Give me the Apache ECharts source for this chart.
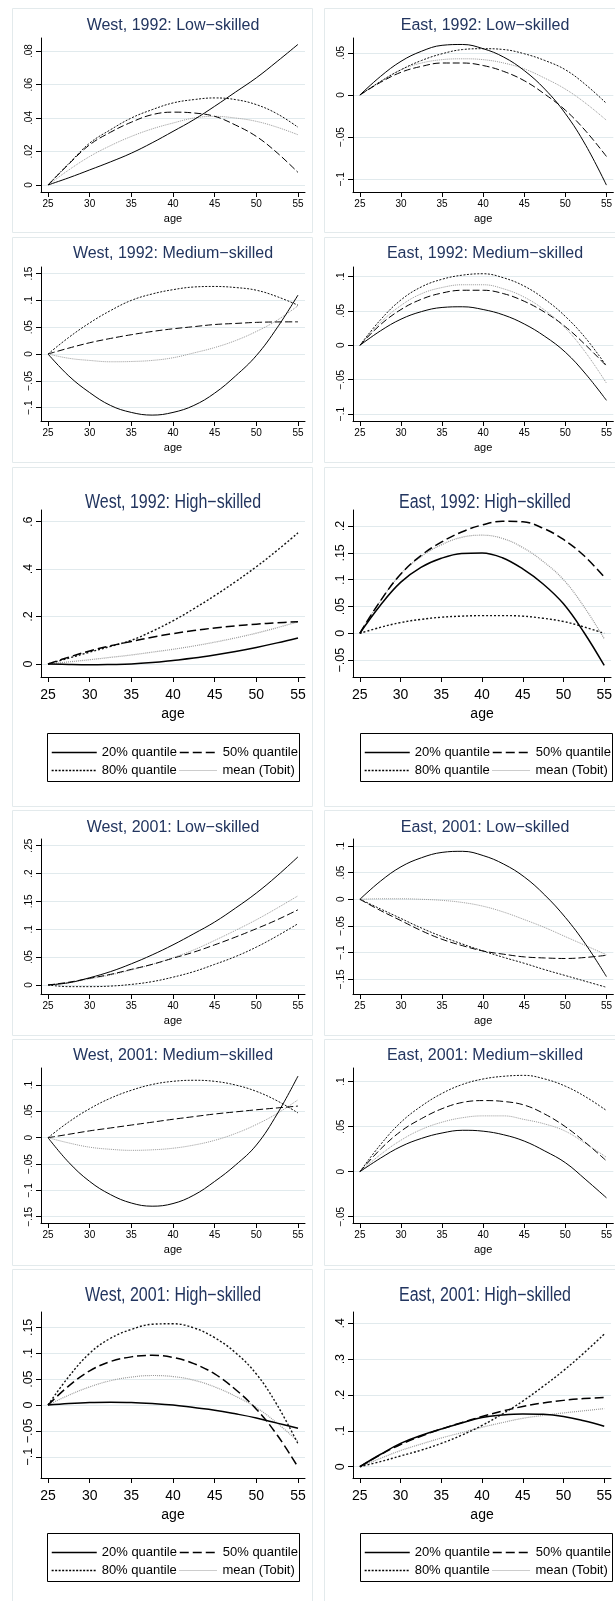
<!DOCTYPE html>
<html><head><meta charset="utf-8">
<script src="https://cdn.jsdelivr.net/npm/echarts@6/dist/echarts.min.js"></script>
<style>html,body{margin:0;padding:0;background:#fff}#c{width:615px;height:1601px}</style>
</head><body><div id="c"></div>
<script>
// ---------------- data ----------------
const ages = [25, 27.5, 30, 32.5, 35, 37.5, 40, 42.5, 45, 47.5, 50, 52.5, 55];
const xTicks = [25, 30, 35, 40, 45, 50, 55];
const seriesNames = ['20% quantile', '50% quantile', '80% quantile', 'mean (Tobit)'];
const panelTitles = [
  'West, 1992: Low\u2212skilled', 'East, 1992: Low\u2212skilled',
  'West, 1992: Medium\u2212skilled', 'East, 1992: Medium\u2212skilled',
  'West, 1992: High\u2212skilled', 'East, 1992: High\u2212skilled',
  'West, 2001: Low\u2212skilled', 'East, 2001: Low\u2212skilled',
  'West, 2001: Medium\u2212skilled', 'East, 2001: Medium\u2212skilled',
  'West, 2001: High\u2212skilled', 'East, 2001: High\u2212skilled'
];

// West 1992 Low
const w92Low_q20  = [0, 0.0043, 0.009, 0.0138, 0.019, 0.0252, 0.032, 0.039, 0.047, 0.0555, 0.064, 0.0738, 0.084];
const w92Low_q50  = [0, 0.0125, 0.024, 0.0315, 0.0375, 0.042, 0.0435, 0.043, 0.041, 0.0358, 0.029, 0.0192, 0.0075];
const w92Low_q80  = [0, 0.0128, 0.025, 0.033, 0.040, 0.045, 0.049, 0.051, 0.052, 0.051, 0.048, 0.0425, 0.0345];
const w92Low_mean = [0, 0.009, 0.017, 0.0235, 0.029, 0.0335, 0.037, 0.040, 0.041, 0.040, 0.038, 0.0345, 0.030];
// East 1992 Low
const e92Low_q20  = [0, 0.022, 0.040, 0.052, 0.059, 0.060, 0.055, 0.045, 0.029, 0.007, -0.022, -0.060, -0.107];
const e92Low_q50  = [0, 0.015, 0.027, 0.034, 0.038, 0.038, 0.035, 0.028, 0.017, 0.001, -0.018, -0.043, -0.073];
const e92Low_q80  = [0, 0.016, 0.030, 0.041, 0.049, 0.054, 0.055, 0.054, 0.049, 0.041, 0.030, 0.012, -0.010];
const e92Low_mean = [0, 0.016, 0.030, 0.038, 0.042, 0.043, 0.042, 0.038, 0.031, 0.020, 0.007, -0.010, -0.030];
// West 1992 Medium
const w92Med_q20  = [0, -0.041, -0.072, -0.096, -0.109, -0.114, -0.109, -0.096, -0.073, -0.041, -0.003, 0.049, 0.110];
const w92Med_q50  = [0, 0.011, 0.021, 0.029, 0.036, 0.042, 0.047, 0.051, 0.055, 0.057, 0.059, 0.0598, 0.060];
const w92Med_q80  = [0, 0.031, 0.058, 0.081, 0.100, 0.112, 0.120, 0.125, 0.126, 0.124, 0.119, 0.107, 0.091];
const w92Med_mean = [0, -0.008, -0.012, -0.0145, -0.014, -0.012, -0.007, 0.002, 0.012, 0.025, 0.042, 0.063, 0.090];
// East 1992 Medium
const e92Med_q20  = [0, 0.021, 0.038, 0.049, 0.055, 0.056, 0.052, 0.044, 0.031, 0.013, -0.010, -0.042, -0.080];
const e92Med_q50  = [0, 0.030, 0.052, 0.067, 0.076, 0.080, 0.080, 0.075, 0.064, 0.048, 0.027, 0.000, -0.030];
const e92Med_q80  = [0, 0.037, 0.066, 0.085, 0.096, 0.102, 0.104, 0.098, 0.086, 0.067, 0.042, 0.010, -0.030];
const e92Med_mean = [0, 0.033, 0.058, 0.075, 0.084, 0.088, 0.088, 0.082, 0.070, 0.051, 0.025, -0.011, -0.055];
// West 1992 High
const w92High_q20  = [0, -0.002, -0.003, -0.002, 0.000, 0.006, 0.015, 0.025, 0.038, 0.053, 0.070, 0.089, 0.110];
const w92High_q50  = [0, 0.029, 0.055, 0.077, 0.095, 0.113, 0.128, 0.141, 0.152, 0.161, 0.168, 0.174, 0.178];
const w92High_q80  = [0, 0.025, 0.050, 0.074, 0.100, 0.138, 0.182, 0.233, 0.288, 0.347, 0.410, 0.479, 0.553];
const w92High_mean = [0, 0.009, 0.018, 0.028, 0.038, 0.050, 0.062, 0.076, 0.092, 0.110, 0.130, 0.153, 0.178];
// East 1992 High
const e92High_q20  = [0, 0.052, 0.095, 0.123, 0.140, 0.149, 0.150, 0.141, 0.120, 0.092, 0.055, 0.002, -0.060];
const e92High_q50  = [0, 0.060, 0.110, 0.145, 0.170, 0.189, 0.202, 0.209, 0.208, 0.196, 0.175, 0.145, 0.105];
const e92High_q80  = [0, 0.011, 0.020, 0.026, 0.030, 0.032, 0.033, 0.033, 0.032, 0.028, 0.022, 0.012, 0.000];
const e92High_mean = [0, 0.060, 0.110, 0.143, 0.165, 0.179, 0.183, 0.177, 0.160, 0.134, 0.100, 0.050, -0.010];
// West 2001 Low
const w01Low_q20  = [0, 0.004, 0.013, 0.024, 0.038, 0.054, 0.072, 0.092, 0.113, 0.138, 0.165, 0.196, 0.230];
const w01Low_q50  = [0, 0.005, 0.012, 0.019, 0.028, 0.037, 0.048, 0.059, 0.072, 0.086, 0.101, 0.117, 0.135];
const w01Low_q80  = [0, -0.003, -0.003, -0.002, 0.001, 0.006, 0.014, 0.024, 0.037, 0.051, 0.068, 0.088, 0.110];
const w01Low_mean = [0, 0.004, 0.011, 0.018, 0.027, 0.037, 0.049, 0.063, 0.080, 0.098, 0.117, 0.138, 0.160];
// East 2001 Low
const e01Low_q20  = [0, 0.034, 0.061, 0.078, 0.088, 0.090, 0.082, 0.066, 0.042, 0.008, -0.034, -0.085, -0.145];
const e01Low_q50  = [0, -0.021, -0.040, -0.059, -0.075, -0.087, -0.097, -0.103, -0.108, -0.110, -0.111, -0.109, -0.105];
const e01Low_q80  = [0, -0.018, -0.036, -0.054, -0.070, -0.084, -0.097, -0.109, -0.120, -0.132, -0.143, -0.154, -0.165];
const e01Low_mean = [0, 0.001, 0.001, 0.000, -0.002, -0.006, -0.013, -0.024, -0.038, -0.053, -0.070, -0.087, -0.104];
// West 2001 Medium
const w01Med_q20  = [0, -0.047, -0.083, -0.108, -0.124, -0.130, -0.125, -0.109, -0.083, -0.052, -0.014, 0.045, 0.117];
const w01Med_q50  = [0, 0.0065, 0.013, 0.0185, 0.024, 0.0295, 0.035, 0.040, 0.045, 0.049, 0.053, 0.0565, 0.060];
const w01Med_q80  = [0, 0.030, 0.055, 0.075, 0.090, 0.101, 0.107, 0.109, 0.107, 0.100, 0.088, 0.070, 0.047];
const w01Med_mean = [0, -0.010, -0.018, -0.022, -0.024, -0.023, -0.020, -0.014, -0.005, 0.008, 0.025, 0.046, 0.072];
// East 2001 Medium
const e01Med_q20  = [0, 0.015, 0.028, 0.037, 0.043, 0.046, 0.045, 0.041, 0.034, 0.023, 0.010, -0.009, -0.029];
const e01Med_q50  = [0, 0.025, 0.045, 0.059, 0.070, 0.077, 0.079, 0.078, 0.074, 0.064, 0.050, 0.032, 0.012];
const e01Med_q80  = [0, 0.030, 0.055, 0.073, 0.087, 0.097, 0.103, 0.106, 0.107, 0.103, 0.095, 0.083, 0.068];
const e01Med_mean = [0, 0.019, 0.035, 0.047, 0.055, 0.060, 0.062, 0.062, 0.058, 0.053, 0.045, 0.031, 0.016];
// West 2001 High
const w01High_q20  = [0, 0.003, 0.005, 0.0055, 0.005, 0.003, 0.000, -0.005, -0.010, -0.017, -0.025, -0.035, -0.045];
const w01High_q50  = [0, 0.037, 0.066, 0.084, 0.093, 0.096, 0.092, 0.080, 0.060, 0.030, -0.008, -0.058, -0.120];
const w01High_q80  = [0, 0.055, 0.100, 0.129, 0.146, 0.156, 0.157, 0.149, 0.130, 0.101, 0.060, 0.000, -0.075];
const w01High_mean = [0, 0.019, 0.035, 0.047, 0.054, 0.057, 0.055, 0.048, 0.035, 0.017, -0.005, -0.035, -0.070];
// East 2001 High
const e01High_q20  = [0, 0.034, 0.065, 0.087, 0.105, 0.122, 0.137, 0.144, 0.147, 0.146, 0.140, 0.128, 0.113];
const e01High_q50  = [0, 0.033, 0.062, 0.085, 0.105, 0.123, 0.140, 0.155, 0.168, 0.178, 0.185, 0.190, 0.193];
const e01High_q80  = [0, 0.014, 0.030, 0.046, 0.065, 0.088, 0.115, 0.147, 0.183, 0.224, 0.268, 0.317, 0.370];
const e01High_mean = [0, 0.023, 0.045, 0.063, 0.080, 0.095, 0.110, 0.123, 0.135, 0.143, 0.150, 0.156, 0.162];

// y tick labels per panel
const yTicks_w92Low  = [0, 0.02, 0.04, 0.06, 0.08];
const yTicks_e92Low  = [-0.1, -0.05, 0, 0.05];
const yTicks_w92Med  = [-0.1, -0.05, 0, 0.05, 0.1, 0.15];
const yTicks_e92Med  = [-0.1, -0.05, 0, 0.05, 0.1];
const yTicks_w92High = [0, 0.2, 0.4, 0.6];
const yTicks_e92High = [-0.05, 0, 0.05, 0.1, 0.15, 0.2];
const yTicks_w01Low  = [0, 0.05, 0.1, 0.15, 0.2, 0.25];
const yTicks_e01Low  = [-0.15, -0.1, -0.05, 0, 0.05, 0.1];
const yTicks_w01Med  = [-0.15, -0.1, -0.05, 0, 0.05, 0.1];
const yTicks_e01Med  = [-0.05, 0, 0.05, 0.1];
const yTicks_w01High = [-0.1, -0.05, 0, 0.05, 0.1, 0.15];
const yTicks_e01High = [0, 0.1, 0.2, 0.3, 0.4];

// ---------------- assembly ----------------
const panelSeries = [
  [w92Low_q20, w92Low_q50, w92Low_q80, w92Low_mean],
  [e92Low_q20, e92Low_q50, e92Low_q80, e92Low_mean],
  [w92Med_q20, w92Med_q50, w92Med_q80, w92Med_mean],
  [e92Med_q20, e92Med_q50, e92Med_q80, e92Med_mean],
  [w92High_q20, w92High_q50, w92High_q80, w92High_mean],
  [e92High_q20, e92High_q50, e92High_q80, e92High_mean],
  [w01Low_q20, w01Low_q50, w01Low_q80, w01Low_mean],
  [e01Low_q20, e01Low_q50, e01Low_q80, e01Low_mean],
  [w01Med_q20, w01Med_q50, w01Med_q80, w01Med_mean],
  [e01Med_q20, e01Med_q50, e01Med_q80, e01Med_mean],
  [w01High_q20, w01High_q50, w01High_q80, w01High_mean],
  [e01High_q20, e01High_q50, e01High_q80, e01High_mean]
];
const panelYTicks = [yTicks_w92Low, yTicks_e92Low, yTicks_w92Med, yTicks_e92Med, yTicks_w92High, yTicks_e92High,
  yTicks_w01Low, yTicks_e01Low, yTicks_w01Med, yTicks_e01Med, yTicks_w01High, yTicks_e01High];

// layout
const rowTop = [38, 267, 510, 839, 1068, 1312];
const rowH = [154, 154, 167, 155, 155, 166];
const colLeft = [41, 353];
const plotW = 264;
const highRow = [false, false, true, false, false, true];
const yRange = [[-0.0042, 0.0878], [-0.1152, 0.0677], [-0.125, 0.1623], [-0.110, 0.1138],
  [-0.0548, 0.6492], [-0.0815, 0.230], [-0.0162, 0.262], [-0.1776, 0.1131],
  [-0.1619, 0.1323], [-0.057, 0.1152], [-0.141, 0.1797], [-0.0315, 0.4315]];
const titleY = [26, 254, 503, 828, 1056, 1296];
const boxRows = [[8, 232], [237, 462], [467, 806], [810, 1035], [1039, 1265], [1269, 1612]];
const boxCols = [[12, 312], [324, 624]];
const legendBoxes = [[47, 733], [360, 733], [47, 1533], [360, 1533]];

const fontReg = "'Liberation Sans', Arial, Helvetica, sans-serif";
const titleColor = '#22355f';
const gridColor = '#e1eaed';

function stataFmt(v) {
  const a = Math.round(Math.abs(v) * 1000) / 1000;
  if (a === 0) return '0';
  const s = String(a).replace(/^0(?=\.)/, '');
  return (v < 0 ? '\u2212' : '') + s;
}
function lineStyleFor(k, high) {
  const w = high ? 1.5 : 1;
  if (k === 0) return { color: '#000', width: w, type: 'solid' };
  if (k === 1) return { color: '#000', width: w, type: high ? [9, 4] : [7, 3] };
  if (k === 2) return { color: '#111', width: high ? 1.4 : 1, type: high ? [2, 2] : [2, 1.5] };
  return { color: '#999', width: high ? 1.2 : 1, type: [1, 1] };
}

const grids = [], xAxes = [], yAxes = [], series = [], graphics = [];
for (let i = 0; i < 12; i++) {
  const r = Math.floor(i / 2), c = i % 2;
  const high = highRow[r];
  grids.push({ left: colLeft[c], top: rowTop[r], width: plotW, height: rowH[r], containLabel: false });
  xAxes.push({
    type: 'value', gridIndex: i, min: 24.16, max: 55.84,
    name: 'age', nameLocation: 'middle', nameGap: high ? 30 : 21,
    nameTextStyle: { fontSize: high ? 14 : 11, fontFamily: fontReg, color: '#000' },
    axisLine: { show: true, onZero: false, lineStyle: { color: '#000', width: 1 } },
    axisTick: { show: true, length: 5, customValues: xTicks, lineStyle: { color: '#000' } },
    axisLabel: { customValues: xTicks, margin: high ? 11 : 7, fontSize: high ? 14 : 10,
      fontFamily: fontReg, color: '#000', showMinLabel: true, showMaxLabel: true },
    splitLine: { show: false }
  });
  yAxes.push({
    type: 'value', gridIndex: i, min: yRange[i][0], max: yRange[i][1],
    axisLine: { show: true, onZero: false, lineStyle: { color: '#000', width: 1 } },
    axisTick: { show: true, length: 5, customValues: panelYTicks[i], lineStyle: { color: '#000' } },
    axisLabel: { customValues: panelYTicks[i], rotate: 90, margin: high ? 6 : 7,
      fontSize: high ? 12.5 : 10, fontFamily: fontReg,
      color: '#000', formatter: stataFmt, hideOverlap: false, showMinLabel: true, showMaxLabel: true },
    splitLine: { show: true, lineStyle: { color: gridColor, width: 1 } }
  });
  panelSeries[i].forEach((vals, k) => {
    series.push({
      type: 'line', name: seriesNames[k], xAxisIndex: i, yAxisIndex: i,
      data: ages.map((a, j) => [a, vals[j]]),
      smooth: 0.4, symbol: 'none', showSymbol: false, silent: true,
      lineStyle: lineStyleFor(k, high), z: 10 - k
    });
  });
  // panel frame
  graphics.push({
    type: 'rect', silent: true, z: -10,
    shape: { x: boxCols[c][0] + 0.5, y: boxRows[r][0] + 0.5, width: boxCols[c][1] - boxCols[c][0], height: boxRows[r][1] - boxRows[r][0] },
    style: { fill: 'none', stroke: '#e3eaec', lineWidth: 1 }
  });
  // panel title
  graphics.push({
    type: 'text', silent: true, x: colLeft[c] + plotW / 2, y: titleY[r],
    scaleX: high ? 0.82 : 1,
    style: { text: panelTitles[i], fill: titleColor, textAlign: 'center', textVerticalAlign: 'middle',
      fontSize: high ? 19.5 : 16, fontFamily: fontReg }
  });
}

// legends
const legendItems = [
  { name: '20% quantile', dx: 4, row: 0, w: 45, ls: { color: '#000', width: 1.5, type: 'solid' } },
  { name: '50% quantile', dx: 132, row: 0, w: 38, ls: { color: '#000', width: 1.5, type: [9, 4] } },
  { name: '80% quantile', dx: 4, row: 1, w: 45, ls: { color: '#000', width: 1.3, type: [2, 1.5] } },
  { name: 'mean (Tobit)', dx: 132, row: 1, w: 38, ls: { color: '#999', width: 1, type: [1, 1] } }
];
const legends = [];
legendBoxes.forEach(([bx, by]) => {
  graphics.push({
    type: 'rect', silent: true, z: 5,
    shape: { x: bx + 0.5, y: by + 0.5, width: 252, height: 48 },
    style: { fill: 'none', stroke: '#000', lineWidth: 1 }
  });
  legendItems.forEach(it => {
    legends.push({
      show: true, left: bx + it.dx, top: by + 21 + it.row * 18 - 8, padding: 0,
      itemWidth: it.w, itemHeight: 16, itemGap: 0, selectedMode: false,
      data: [it.name],
      lineStyle: it.ls,
      itemStyle: { color: 'rgba(0,0,0,0)', borderWidth: 0, opacity: 0 },
      textStyle: { fontSize: 13, fontFamily: fontReg, color: '#000' }
    });
  });
});

const chart = echarts.init(document.getElementById('c'), null, { renderer: 'canvas', width: 615, height: 1601 });
chart.setOption({
  backgroundColor: '#ffffff',
  animation: false,
  grid: grids, xAxis: xAxes, yAxis: yAxes, series: series,
  legend: legends, graphic: graphics
});
</script></body></html>
